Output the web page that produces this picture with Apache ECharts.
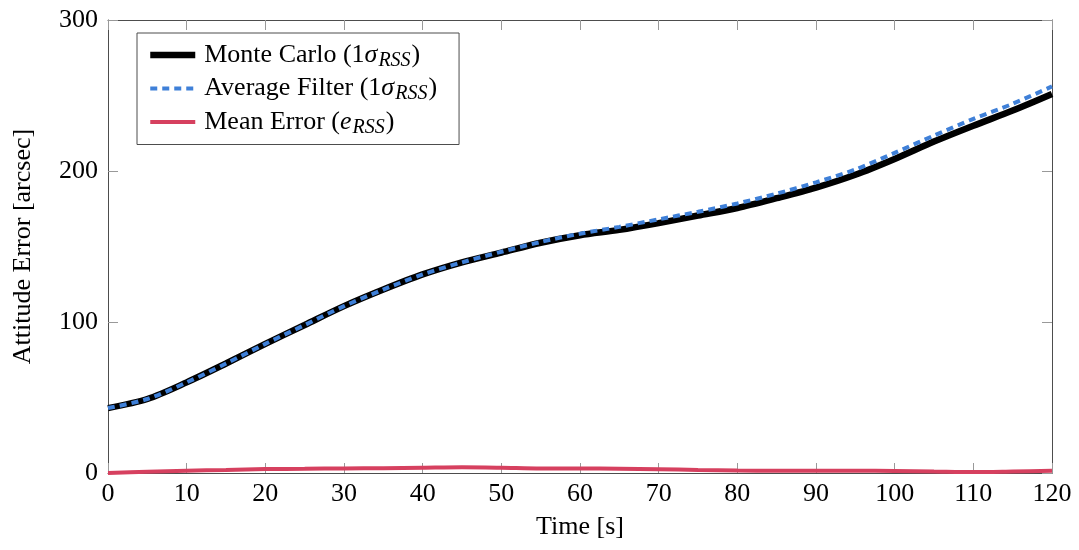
<!DOCTYPE html>
<html><head><meta charset="utf-8">
<script src="https://cdn.jsdelivr.net/npm/echarts@6/dist/echarts.min.js"></script>
<style>html,body{margin:0;padding:0;background:#fff}#c{width:1079px;height:550px}</style>
</head><body><div id="c"></div>
<script>
const times = [0,5,10,15,20,25,30,35,40,45,50,55,60,65,70,75,80,85,90,95,100,105,110,115,120];
const monteCarlo = [43,49,60,72.5,85.5,98,110.5,121.5,131.5,139.5,146,152.5,157.5,161,165.5,170.5,175.5,182,189,197.5,208,219.5,230,240,251];
const avgFilter = [43,49,60,72.5,85.5,98,110.5,121.5,131.5,139.5,146.5,153,158.5,163,168,173,178.5,185,192.5,201,212,223.5,234.5,244.5,256];
const meanError = [0,0.8,1.5,2,2.6,2.8,3,3.2,3.5,3.8,3.5,3,3,2.8,2.5,2,1.6,1.5,1.5,1.5,1.4,1,0.6,1,1.5];
const xTicks = {min:0, max:120, interval:10};
const yTicks = {min:0, max:300, interval:100};

const font = '"Liberation Serif", "DejaVu Serif", serif';
const FS = 26;
const pair = a => times.map((t,i)=>[t,a[i]]);
const axCol = '#4d4d4d';
const tickCol = '#999';
const rich = {
  n:{fontFamily:font,fontSize:26,color:'#000'},
  s:{fontFamily:font,fontSize:26,fontStyle:'italic',color:'#000'},
  sub:{fontFamily:font,fontSize:20,fontStyle:'italic',color:'#000',padding:[11,1,0,1]}
};
const tickOpt = {show:true,inside:true,length:10,lineStyle:{color:tickCol,width:1}};
const lineOpt = {show:true,onZero:false,lineStyle:{color:axCol,width:1}};
const chart = echarts.init(document.getElementById('c'));
chart.setOption({
  animation:false,
  grid:{left:108,right:27,top:20,bottom:77,show:false},
  legend:{
    left:137, top:33, orient:'vertical', itemGap:5, itemWidth:45, itemHeight:14,
    borderColor:axCol, borderWidth:1, padding:[9,22,7,10],
    itemStyle:{opacity:0},
    lineStyle:{width:'inherit'},
    formatter: name => ({
      'Monte Carlo':'{n|Monte Carlo (1}{s|σ}{sub|RSS}{n|)}',
      'Average Filter':'{n|Average Filter (1}{s|σ}{sub|RSS}{n|)}',
      'Mean Error':'{n|Mean Error (}{s|e}{sub|RSS}{n|)}'
    })[name],
    textStyle:{rich:rich, fontFamily:font, fontSize:26, padding:[0,0,0,4]}
  },
  xAxis:[{
    type:'value', min:xTicks.min, max:xTicks.max, interval:xTicks.interval,
    name:'Time [s]', nameLocation:'middle', nameGap:41,
    nameTextStyle:{fontFamily:font,fontSize:FS,color:'#000'},
    axisLine:lineOpt, axisTick:tickOpt,
    axisLabel:{fontFamily:font,fontSize:FS,color:'#000',margin:8},
    splitLine:{show:false}
  },{
    type:'value', position:'top', min:xTicks.min, max:xTicks.max, interval:xTicks.interval,
    axisLine:lineOpt, axisTick:tickOpt,
    axisLabel:{show:false}, splitLine:{show:false}
  }],
  yAxis:[{
    type:'value', min:yTicks.min, max:yTicks.max, interval:yTicks.interval,
    name:'Attitude Error [arcsec]', nameLocation:'middle', nameGap:72, nameRotate:90,
    nameTextStyle:{fontFamily:font,fontSize:FS,color:'#000'},
    axisLine:lineOpt, axisTick:tickOpt,
    axisLabel:{fontFamily:font,fontSize:FS,color:'#000',margin:10},
    splitLine:{show:false}
  },{
    type:'value', position:'right', min:yTicks.min, max:yTicks.max, interval:yTicks.interval,
    axisLine:lineOpt, axisTick:tickOpt,
    axisLabel:{show:false}, splitLine:{show:false}
  }],
  series:[
    {name:'Monte Carlo',type:'line',data:pair(monteCarlo),smooth:0.3,symbol:'none',
     lineStyle:{color:'#000',width:6.5},itemStyle:{color:'#000'},z:2},
    {name:'Average Filter',type:'line',data:pair(avgFilter),smooth:0.3,symbol:'none',
     lineStyle:{color:'#3f80d8',width:4,type:[7,5]},itemStyle:{color:'#3f80d8'},z:3},
    {name:'Mean Error',type:'line',data:pair(meanError),smooth:0.3,symbol:'none',
     lineStyle:{color:'#d6405f',width:4},itemStyle:{color:'#d6405f'},z:4}
  ]
});
</script></body></html>
